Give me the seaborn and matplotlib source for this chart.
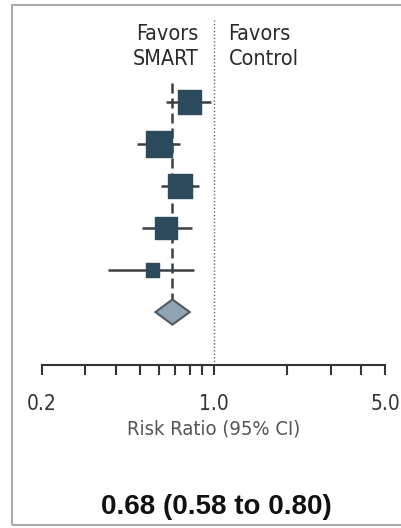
import matplotlib
matplotlib.use("Agg")
import matplotlib.pyplot as plt
from matplotlib.patches import Polygon, Rectangle
import seaborn as sns
import pandas as pd
import numpy as np

# dados (razão de risco e IC 95%)
rr = [0.80, 0.60, 0.73, 0.64, 0.565]
lo = [0.64, 0.49, 0.61, 0.51, 0.37]
hi = [0.98, 0.73, 0.87, 0.82, 0.83]
weight = [22, 25, 24, 21, 13]
linha = [1, 2, 3, 4, 5]

geral = 0.68
geral_lo = 0.58
geral_hi = 0.80

ticks_maiores = [0.2, 1.0, 5.0]
ticks_labels = ["0.2", "1.0", "5.0"]
ticks_menores = [0.3, 0.4, 0.5, 0.6, 0.7, 0.8, 0.9, 2, 3, 4]

df = pd.DataFrame({"rr": rr, "lo": lo, "hi": hi, "weight": weight, "linha": linha})

sns.set_style("white")
plt.rcParams['font.family'] = ['DejaVu Sans']
plt.rcParams['font.stretch'] = 'condensed'

fig = plt.figure(figsize=(4.01, 5.28), dpi=100)
ax = fig.add_axes([42 / 401, 1 - 365 / 528, 343 / 401, 345 / 528])

cinza = "#3c3f44"
azul = "#2b4a5c"

# linha de efeito nulo
ax.axvline(1.0, color="#666666", ls=(0, (1, 1.5)), lw=1.0, zorder=1)
# linha do efeito geral
ax.vlines(geral, 0.55, 5.7, color=cinza, ls=(0, (4, 2)), lw=1.8, zorder=1)

# intervalos de confiança
ax.hlines(df.linha, df.lo, df.hi, color=cinza, lw=1.8, zorder=2)

# quadrados
sns.scatterplot(data=df, x="rr", y="linha", size="weight", sizes=(90, 340),
                size_norm=(13, 25), marker="s", color=azul, edgecolor=azul,
                legend=False, ax=ax, zorder=3)

# diamante
diamante = Polygon([(geral_lo, 6), (geral, 5.7), (geral_hi, 6), (geral, 6.3)],
                   closed=True, facecolor="#8fa3b3", edgecolor="#4d5a64", lw=1.5, zorder=3)
ax.add_patch(diamante)

ax.set_xscale("log")
ax.set_xlim(0.2, 5.0)
ax.set_ylim(7.26, -0.95)

ax.set_xticks(ticks_maiores)
ax.set_xticklabels(ticks_labels)
ax.set_xticks(ticks_menores, minor=True)
ax.xaxis.set_minor_formatter(matplotlib.ticker.NullFormatter())
ax.set_yticks([])
ax.tick_params(axis="x", which="both", direction="out", length=7, width=1.5,
               color="#333333", labelsize=15, labelcolor="#333333", pad=14, bottom=True)

for lado in ["top", "left", "right"]:
    ax.spines[lado].set_visible(False)
ax.spines["bottom"].set_color("#333333")
ax.spines["bottom"].set_linewidth(1.5)
ax.set_facecolor("none")
ax.set_ylabel("")
ax.set_xlabel("Risk Ratio (95% CI)", fontsize=14.5, color="#555555", labelpad=4)

ax.text(0.867, -0.32, "Favors\nSMART", ha="right", va="center", fontsize=15.5,
        color="#2a2a2a", linespacing=1.35)
ax.text(1.15, -0.32, "Favors\nControl", ha="left", va="center", fontsize=15.5,
        color="#2a2a2a", linespacing=1.35)

fig.text(216 / 401, 1 - 507 / 528, "0.68 (0.58 to 0.80)", ha="center", va="center",
         fontsize=20, fontweight="bold", family="Liberation Sans", stretch="normal",
         color="#111111")

# moldura
fig.patches.append(Rectangle((12 / 401, 3 / 528), 1.0, 520 / 528, transform=fig.transFigure,
                             fill=False, edgecolor="#aaaaaa", lw=1.5))

fig.savefig("out.png", dpi=100)
